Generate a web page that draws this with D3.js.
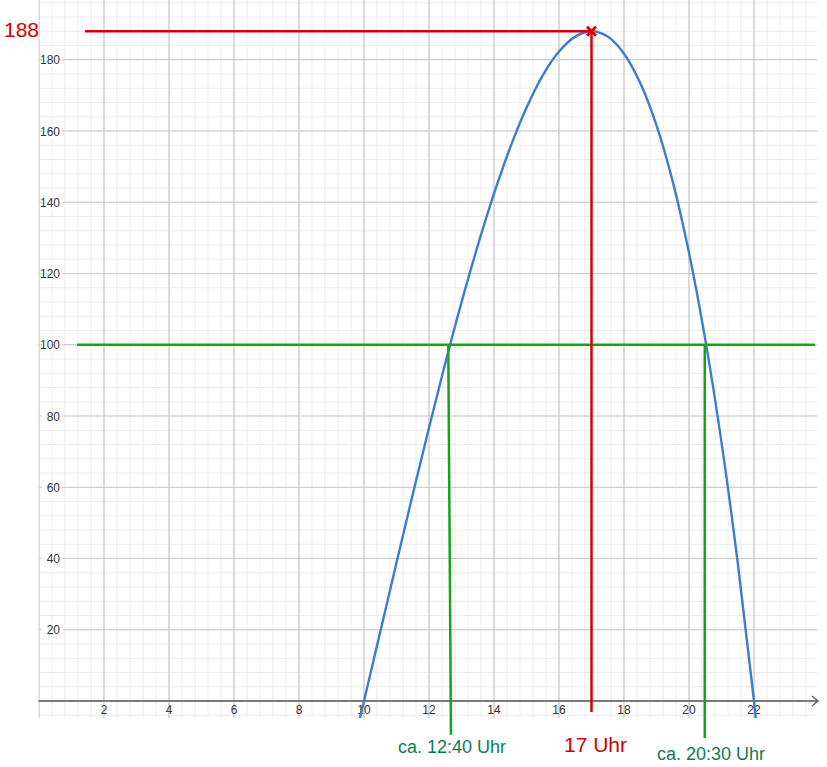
<!DOCTYPE html>
<html>
<head>
<meta charset="utf-8">
<script src="https://cdn.jsdelivr.net/npm/d3@7"></script>
<style>
  html, body { margin: 0; padding: 0; background: #fff; }
  svg { display: block; font-family: "Liberation Sans", Arial, sans-serif; }
</style>
</head>
<body>
<svg id="chart" width="827" height="767"></svg>
<script>
// ---- data ----
const hours  = [9.5, 10, 10.5, 11, 11.5, 12, 12.5, 13, 13.5, 14, 14.5, 15, 15.5, 16, 16.5, 17, 17.5, 18, 18.5, 19, 19.5, 20, 20.5, 21, 21.5, 22, 22.5];
const visitors = [-19.2, 0, 19.4, 38.8, 58.0, 76.7, 94.8, 111.9, 127.8, 142.4, 155.4, 166.5, 175.6, 182.3, 186.5, 188, 186.5, 181.7, 173.5, 161.6, 145.8, 125.8, 101.5, 72.6, 38.8, 0, -44.1];
const xTicks = [2, 4, 6, 8, 10, 12, 14, 16, 18, 20, 22];
const yTicks = [20, 40, 60, 80, 100, 120, 140, 160, 180];
const peak = { x: 17, y: 188, label: "188", xLabel: "17 Uhr" };
const threshold = 100;
const crossings = [12.67, 20.5];
const crossingLabels = ["ca. 12:40 Uhr", "ca. 20:30 Uhr"];

// ---- layout ----
(function () {
const svg = d3.select("#chart");
const x = d3.scaleLinear().domain([0, 24]).range([39, 39 + 24 * 32.5]);
const y = d3.scaleLinear().domain([0, 200]).range([701, 701 - 200 * 3.5625]);
const pLeft = 38.5, pRight = 817.5, pTop = 0, pBottom = 718;

svg.append("defs").append("clipPath").attr("id", "plotclip")
  .append("rect").attr("x", pLeft).attr("y", pTop).attr("width", pRight - pLeft).attr("height", pBottom - pTop);

const grid = svg.append("g").attr("clip-path", "url(#plotclip)");
// minor grid
const minorX = d3.range(0, 24.01, 0.4);
const minorY = d3.range(-8, 200.01, 4);
grid.selectAll(".mx").data(minorX).join("line")
  .attr("x1", d => x(d)).attr("x2", d => x(d)).attr("y1", pTop).attr("y2", pBottom)
  .attr("stroke", "#ececec").attr("stroke-width", 1);
grid.selectAll(".my").data(minorY).join("line")
  .attr("y1", d => y(d)).attr("y2", d => y(d)).attr("x1", pLeft).attr("x2", pRight)
  .attr("stroke", "#ececec").attr("stroke-width", 1);
// major grid
grid.selectAll(".Mx").data(d3.range(0, 24.01, 2)).join("line")
  .attr("x1", d => x(d)).attr("x2", d => x(d)).attr("y1", pTop).attr("y2", pBottom)
  .attr("stroke", "#c9c9c9").attr("stroke-width", 1.2);
grid.selectAll(".My").data(d3.range(-20, 200.01, 20)).join("line")
  .attr("y1", d => y(d)).attr("y2", d => y(d)).attr("x1", pLeft).attr("x2", pRight)
  .attr("stroke", "#c9c9c9").attr("stroke-width", 1.2);

// y tick labels with white background
const yl = svg.append("g");
yTicks.forEach(t => {
  yl.append("rect").attr("x", 42).attr("y", y(t) - 7).attr("width", 20).attr("height", 14).attr("fill", "#fff");
  yl.append("text").attr("x", 60).attr("y", y(t) + 4.5).attr("text-anchor", "end")
    .attr("font-size", 12).attr("fill", "#333").text(t);
});

// x axis
svg.append("line").attr("x1", pLeft).attr("x2", 818).attr("y1", y(0)).attr("y2", y(0))
  .attr("stroke", "#5a5a5a").attr("stroke-width", 1.5);
svg.append("path").attr("d", `M${812},${y(0) - 5} L${818},${y(0)} L${812},${y(0) + 5}`)
  .attr("fill", "none").attr("stroke", "#5a5a5a").attr("stroke-width", 1.3);
const xl = svg.append("g");
xTicks.forEach(t => {
  xl.append("text").attr("x", x(t)).attr("y", 714).attr("text-anchor", "middle")
    .attr("font-size", 12).attr("fill", "#333").text(t);
});

// curve
const line = d3.line().x((d, i) => x(hours[i])).y(d => y(d)).curve(d3.curveCatmullRom.alpha(0.5));
svg.append("g").attr("clip-path", "url(#plotclip)")
  .append("path").datum(visitors).attr("d", line)
  .attr("fill", "none").attr("stroke", "#3b7dd0").attr("stroke-width", 2.4);

// threshold (green)
const green = "#14a514";
svg.append("line").attr("x1", x(1.17)).attr("x2", x(23.88)).attr("y1", y(threshold)).attr("y2", y(threshold))
  .attr("stroke", green).attr("stroke-width", 2.5);
svg.append("line").attr("x1", x(crossings[0]) - 2.5).attr("x2", x(crossings[0]) + 0.2)
  .attr("y1", y(threshold)).attr("y2", y(-9.5))
  .attr("stroke", green).attr("stroke-width", 2.5);
svg.append("line").attr("x1", x(crossings[1]) - 0.5).attr("x2", x(crossings[1]) - 0.5)
  .attr("y1", y(threshold)).attr("y2", y(-10.4))
  .attr("stroke", green).attr("stroke-width", 2.5);

// peak (red)
const red = "#d40000";
svg.append("line").attr("x1", x(1.415)).attr("x2", x(peak.x)).attr("y1", y(peak.y)).attr("y2", y(peak.y))
  .attr("stroke", red).attr("stroke-width", 2.5);
svg.append("line").attr("x1", x(peak.x)).attr("x2", x(peak.x)).attr("y1", y(peak.y)).attr("y2", y(-3.1))
  .attr("stroke", red).attr("stroke-width", 2.5);
const px = x(peak.x), py = y(peak.y), s = 4.5;
svg.append("path").attr("d", `M${px - s},${py - s} L${px + s},${py + s} M${px - s},${py + s} L${px + s},${py - s}`)
  .attr("stroke", red).attr("stroke-width", 2.8).attr("fill", "none");

// annotation labels
svg.append("text").attr("x", 4).attr("y", 37).attr("font-size", 21).attr("fill", red).text(peak.label);
svg.append("text").attr("x", x(peak.x) + 4).attr("y", 752).attr("text-anchor", "middle")
  .attr("font-size", 21).attr("fill", red).text(peak.xLabel);
const labelGreen = "#0b7d55";
svg.append("text").attr("x", 452).attr("y", 753).attr("text-anchor", "middle")
  .attr("font-size", 18).attr("fill", labelGreen).text(crossingLabels[0]);
svg.append("text").attr("x", 711).attr("y", 760).attr("text-anchor", "middle")
  .attr("font-size", 18).attr("fill", labelGreen).text(crossingLabels[1]);
})();
</script>
</body>
</html>
